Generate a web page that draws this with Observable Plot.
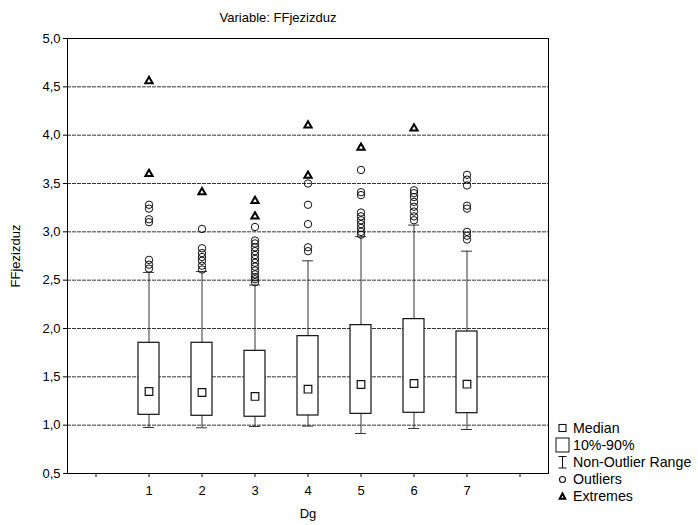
<!DOCTYPE html>
<html>
<head>
<meta charset="utf-8">
<script src="https://cdn.jsdelivr.net/npm/d3@7"></script>
<script src="https://cdn.jsdelivr.net/npm/@observablehq/plot@0.6"></script>
<style>
  html, body { margin: 0; padding: 0; background: #fff; }
  #wrap { position: relative; width: 698px; height: 525px; overflow: hidden; font-family: "Liberation Sans", Arial, sans-serif; }
  #subtitle { position: absolute; top: 10px; left: 178px; width: 200px; text-align: center; font-size: 13px; color: #000; }
  #legend { position: absolute; left: 555px; top: 420px; font-size: 14.2px; color: #000; }
  #legend .row { height: 16.8px; display: flex; align-items: center; white-space: nowrap; }
  #legend svg { width: 16px; height: 16px; margin-right: 2px; flex: none; }
</style>
</head>
<body>
<div id="wrap">
  <div id="chart"></div>
  <div id="subtitle">Variable: FFjezizduz</div>
  <div id="legend"></div>
</div>
<script>
// ---- data ----
const categories = [1, 2, 3, 4, 5, 6, 7];
const slots = [0, 1, 2, 3, 4, 5, 6, 7, 8];
const median = [1.348, 1.338, 1.297, 1.372, 1.421, 1.431, 1.424];
const p10 = [1.107, 1.097, 1.087, 1.100, 1.117, 1.128, 1.124];
const p90 = [1.852, 1.852, 1.769, 1.921, 2.035, 2.097, 1.969];
const whiskerLow = [0.976, 0.973, 0.986, 0.990, 0.914, 0.966, 0.955];
const whiskerHigh = [2.58, 2.59, 2.45, 2.70, 2.95, 3.07, 2.80];

const outlierCat = [
  1, 1, 1, 1, 1, 1, 1,
  2, 2, 2, 2, 2, 2, 2,
  3, 3, 3, 3, 3, 3, 3, 3, 3, 3, 3, 3, 3, 3,
  4, 4, 4, 4, 4,
  5, 5, 5, 5, 5, 5, 5, 5, 5, 5,
  6, 6, 6, 6, 6, 6, 6, 6,
  7, 7, 7, 7, 7, 7, 7, 7
];
const outlierVal = [
  3.28, 3.24, 3.13, 3.10, 2.71, 2.66, 2.62,
  3.03, 2.83, 2.78, 2.74, 2.70, 2.65, 2.61,
  3.05, 2.91, 2.88, 2.84, 2.80, 2.76, 2.72, 2.68, 2.64, 2.60, 2.56, 2.53, 2.51, 2.48,
  3.50, 3.28, 3.08, 2.84, 2.80,
  3.64, 3.41, 3.38, 3.20, 3.16, 3.12, 3.08, 3.04, 3.00, 2.97,
  3.43, 3.40, 3.36, 3.31, 3.26, 3.21, 3.16, 3.12,
  3.59, 3.54, 3.48, 3.27, 3.24, 3.00, 2.96, 2.92
];
const extremeCat = [1, 1, 2, 3, 3, 4, 4, 5, 6];
const extremeVal = [4.56, 3.60, 3.41, 3.32, 3.16, 4.10, 3.58, 3.87, 4.07];

const yTicks = [0.5, 1.0, 1.5, 2.0, 2.5, 3.0, 3.5, 4.0, 4.5, 5.0];
const gridLines = [1.0, 1.5, 2.0, 2.5, 3.0, 3.5, 4.0, 4.5];

// ---- tables built from the arrays ----
const stats = categories.map((c, i) => ({
  cat: c, median: median[i], p10: p10[i], p90: p90[i],
  lo: whiskerLow[i], hi: whiskerHigh[i]
}));
const outliers = outlierCat.map((c, i) => ({cat: c, v: outlierVal[i]}));
const extremes = extremeCat.map((c, i) => ({cat: c, v: extremeVal[i]}));

const fmt = d => d.toFixed(1).replace(".", ",");

const chart = Plot.plot({
  width: 698,
  height: 525,
  marginLeft: 67,
  marginRight: 150,
  marginTop: 38,
  marginBottom: 52,
  style: {fontFamily: "'Liberation Sans', Arial, sans-serif", fontSize: "13px", color: "#000", background: "#fff"},
  x: {type: "band", domain: slots, padding: 0},
  y: {domain: [0.5, 5.0]},
  marks: [
    Plot.ruleY(gridLines, {stroke: "#333", strokeWidth: 1, strokeDasharray: "4,1"}),
    Plot.ruleX(stats, {x: "cat", y1: "lo", y2: "hi", stroke: "#333", strokeWidth: 1}),
    Plot.tickY(stats, {x: "cat", y: "hi", stroke: "#333", insetLeft: 21, insetRight: 21}),
    Plot.tickY(stats, {x: "cat", y: "lo", stroke: "#333", insetLeft: 21, insetRight: 21}),
    Plot.barY(stats, {x: "cat", y1: "p10", y2: "p90", fill: "white", stroke: "#111", strokeWidth: 1.2, insetLeft: 16, insetRight: 16}),
    Plot.dot(stats, {x: "cat", y: "median", symbol: "square", r: 4.3, fill: "white", stroke: "#111", strokeWidth: 1.2}),
    Plot.dot(outliers, {x: "cat", y: "v", symbol: "circle", r: 3.7, fill: "none", stroke: "#111", strokeWidth: 1}),
    Plot.dot(extremes, {x: "cat", y: "v", symbol: "triangle", r: 2.7, fill: "white", stroke: "#000", strokeWidth: 2}),
    Plot.frame({stroke: "#000", strokeWidth: 1}),
    Plot.axisY(yTicks, {tickFormat: fmt, tickSize: 4, tickPadding: 3, label: "FFjezizduz", labelAnchor: "center", labelArrow: "none", labelOffset: 57, fontSize: 13}),
    Plot.axisX(slots, {tickFormat: d => categories.includes(d) ? String(d) : "", tickSize: 4, tickPadding: 8, label: "Dg", labelAnchor: "center", labelArrow: "none", labelOffset: 44, fontSize: 13})
  ]
});
document.getElementById("chart").appendChild(chart);

// ---- legend ----
const legendItems = [
  {label: "Median", icon: '<rect x="4" y="4.5" width="7" height="7" fill="white" stroke="#111" stroke-width="1.1"/>'},
  {label: "10%-90%", icon: '<rect x="1" y="1" width="13" height="14" fill="white" stroke="#111" stroke-width="1"/>'},
  {label: "Non-Outlier Range", icon: '<path d="M3.5 2.5H11.5M7.5 2.5V14M3.5 14H11.5" fill="none" stroke="#111" stroke-width="1"/>'},
  {label: "Outliers", icon: '<circle cx="7.5" cy="8.5" r="3" fill="none" stroke="#111" stroke-width="1.1"/>'},
  {label: "Extremes", icon: '<path d="M7.5 5.5L10.3 10.8H4.7Z" fill="white" stroke="#000" stroke-width="2" stroke-linejoin="miter"/>'}
];
const legend = document.getElementById("legend");
legendItems.forEach(it => {
  const row = document.createElement("div");
  row.className = "row";
  row.innerHTML = `<svg viewBox="0 0 16 16">${it.icon}</svg><span>${it.label}</span>`;
  legend.appendChild(row);
});
</script>
</body>
</html>
